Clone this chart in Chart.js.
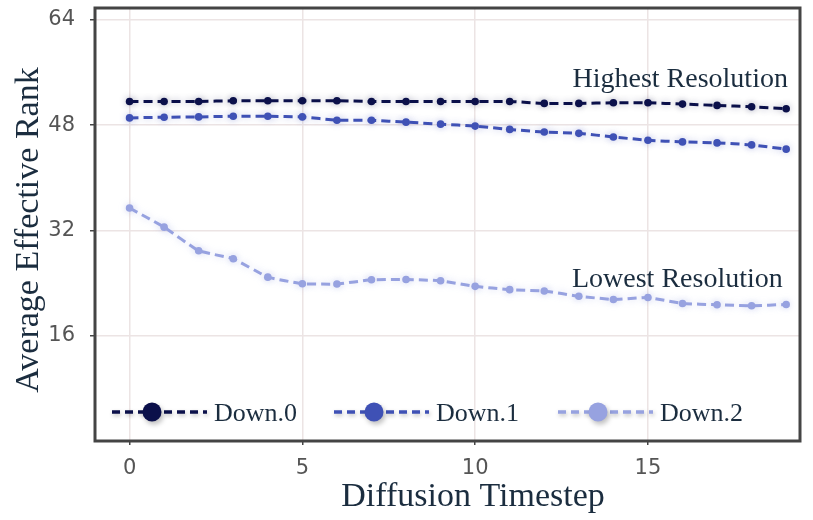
<!DOCTYPE html>
<html>
<head>
<meta charset="utf-8">
<script src="https://cdn.jsdelivr.net/npm/chart.js@4.4.1/dist/chart.umd.min.js"></script>
<style>
  html, body { margin: 0; padding: 0; background: #fff; }
  #wrap { width: 813px; height: 520px; }
</style>
</head>
<body>
<div id="wrap"><canvas id="myChart" width="813" height="520"></canvas></div>
<script>
// donnees
var timesteps = [0, 1, 2, 3, 4, 5, 6, 7, 8, 9, 10, 11, 12, 13, 14, 15, 16, 17, 18, 19];
var down0 = [51.6, 51.6, 51.6, 51.7, 51.7, 51.7, 51.7, 51.6, 51.6, 51.6, 51.6, 51.6, 51.3, 51.3, 51.4, 51.4, 51.2, 51.0, 50.8, 50.5];
var down1 = [49.1, 49.2, 49.25, 49.35, 49.35, 49.25, 48.75, 48.75, 48.45, 48.15, 47.85, 47.35, 46.95, 46.75, 46.2, 45.7, 45.45, 45.3, 45.0, 44.35];
var down2 = [35.4, 32.5, 28.9, 27.7, 24.9, 23.9, 23.85, 24.5, 24.55, 24.35, 23.5, 23.0, 22.8, 22.0, 21.5, 21.8, 20.9, 20.7, 20.55, 20.75];
var seriesNames = ['Down.0', 'Down.1', 'Down.2'];
var seriesColors = ['#0b104a', '#3f51b5', '#97a2e0'];
var glowColors = ['rgba(11,16,74,0.30)', 'rgba(63,81,181,0.30)', 'rgba(151,162,224,0.40)'];
var xTicks = [0, 5, 10, 15];
var yTicks = [16, 32, 48, 64];
var notes = [
    { text: 'Highest Resolution', x: 19.05, y: 53.8 },
    { text: 'Lowest Resolution', x: 18.9, y: 23.4 }
];

var serif = '"Liberation Serif", "DejaVu Serif", serif';
var textColor = '#1b2d3f';

function points(vals) {
    return timesteps.map(function (t, i) { return { x: t, y: vals[i] }; });
}

var allSeries = [down0, down1, down2];
var datasets = allSeries.map(function (vals, i) {
    return {
        label: seriesNames[i],
        data: points(vals),
        borderColor: seriesColors[i],
        backgroundColor: seriesColors[i],
        borderWidth: 3,
        borderDash: [9, 5],
        pointRadius: 3.8,
        pointHoverRadius: 3.8,
        pointBorderWidth: 0,
        tension: 0.1
    };
});

// halo flou autour des courbes
var glow = {
    id: 'glow',
    beforeDatasetDraw: function (chart, args) {
        var ctx = chart.ctx;
        ctx.save();
        ctx.shadowColor = glowColors[args.index];
        ctx.shadowBlur = 7;
    },
    afterDatasetDraw: function (chart) {
        chart.ctx.restore();
    }
};

// cadre, titres, annotations, legende
var decor = {
    id: 'decor',
    beforeDatasetsDraw: function (chart) {
        var ctx = chart.ctx, a = chart.chartArea;
        ctx.save();
        ctx.strokeStyle = '#444';
        ctx.lineWidth = 3;
        ctx.strokeRect(a.left, a.top, a.right - a.left, a.bottom - a.top);
        ctx.restore();
    },
    afterDraw: function (chart) {
        var ctx = chart.ctx;
        var xs = chart.scales.x, ys = chart.scales.y;
        ctx.save();
        ctx.fillStyle = textColor;

        // titres des axes
        ctx.font = '34px ' + serif;
        ctx.textAlign = 'center';
        ctx.textBaseline = 'alphabetic';
        ctx.fillText('Diffusion Timestep', 473, 506);
        ctx.save();
        ctx.translate(38, 230);
        ctx.rotate(-Math.PI / 2);
        ctx.fillText('Average Effective Rank', 0, 0);
        ctx.restore();

        // annotations
        ctx.font = '28px ' + serif;
        ctx.textAlign = 'right';
        notes.forEach(function (n) {
            ctx.fillText(n.text, xs.getPixelForValue(n.x), ys.getPixelForValue(n.y));
        });

        // legende
        var starts = [112, 334, 558];
        var ly = 412;
        for (var i = 0; i < seriesNames.length; i++) {
            var x0 = starts[i];
            ctx.save();
            ctx.shadowColor = 'rgba(0,0,0,0.25)';
            ctx.shadowBlur = 4;
            ctx.shadowOffsetX = 1;
            ctx.shadowOffsetY = 2;
            ctx.strokeStyle = seriesColors[i];
            ctx.lineWidth = 3.5;
            ctx.setLineDash([8, 5]);
            ctx.beginPath();
            ctx.moveTo(x0, ly);
            ctx.lineTo(x0 + 95, ly);
            ctx.stroke();
            ctx.setLineDash([]);
            ctx.shadowBlur = 5;
            ctx.shadowOffsetX = 2;
            ctx.shadowOffsetY = 3;
            ctx.fillStyle = seriesColors[i];
            ctx.beginPath();
            ctx.arc(x0 + 40, ly, 9.5, 0, Math.PI * 2);
            ctx.fill();
            ctx.restore();

            ctx.font = '26px ' + serif;
            ctx.textAlign = 'left';
            ctx.fillStyle = textColor;
            ctx.fillText(seriesNames[i], x0 + 102, 421);
        }
        ctx.restore();
    }
};

var ctx = document.getElementById('myChart').getContext('2d');
var myChart = new Chart(ctx, {
    type: 'line',
    data: { datasets: datasets },
    options: {
        responsive: false,
        animation: false,
        events: [],
        layout: { padding: { top: 8, right: 13, left: 0, bottom: 0 } },
        plugins: {
            legend: { display: false },
            tooltip: { enabled: false }
        },
        scales: {
            x: {
                type: 'linear',
                position: 'bottom',
                min: -1,
                max: 19.4,
                afterBuildTicks: function (s) { s.ticks = xTicks.map(function (v) { return { value: v }; }); },
                afterFit: function (s) { s.height = 79; s.paddingLeft = 0; s.paddingRight = 0; },
                grid: { color: '#ece4e4', lineWidth: 1.5, tickLength: 4, tickColor: '#444', tickWidth: 1.5 },
                border: { display: false },
                ticks: { color: '#555', padding: 11, maxRotation: 0, font: { family: '"DejaVu Sans", sans-serif', size: 21 } }
            },
            y: {
                type: 'linear',
                position: 'left',
                min: 0,
                max: 65.8,
                afterBuildTicks: function (s) { s.ticks = yTicks.map(function (v) { return { value: v }; }); },
                afterFit: function (s) { s.width = 95; s.paddingTop = 0; s.paddingBottom = 0; },
                grid: { color: '#ece4e4', lineWidth: 1.5, tickLength: 5, tickColor: '#444', tickWidth: 1.5 },
                border: { display: false },
                ticks: { color: '#555', padding: 15, font: { family: '"DejaVu Sans", sans-serif', size: 21 } }
            }
        }
    },
    plugins: [glow, decor]
});
</script>
</body>
</html>
